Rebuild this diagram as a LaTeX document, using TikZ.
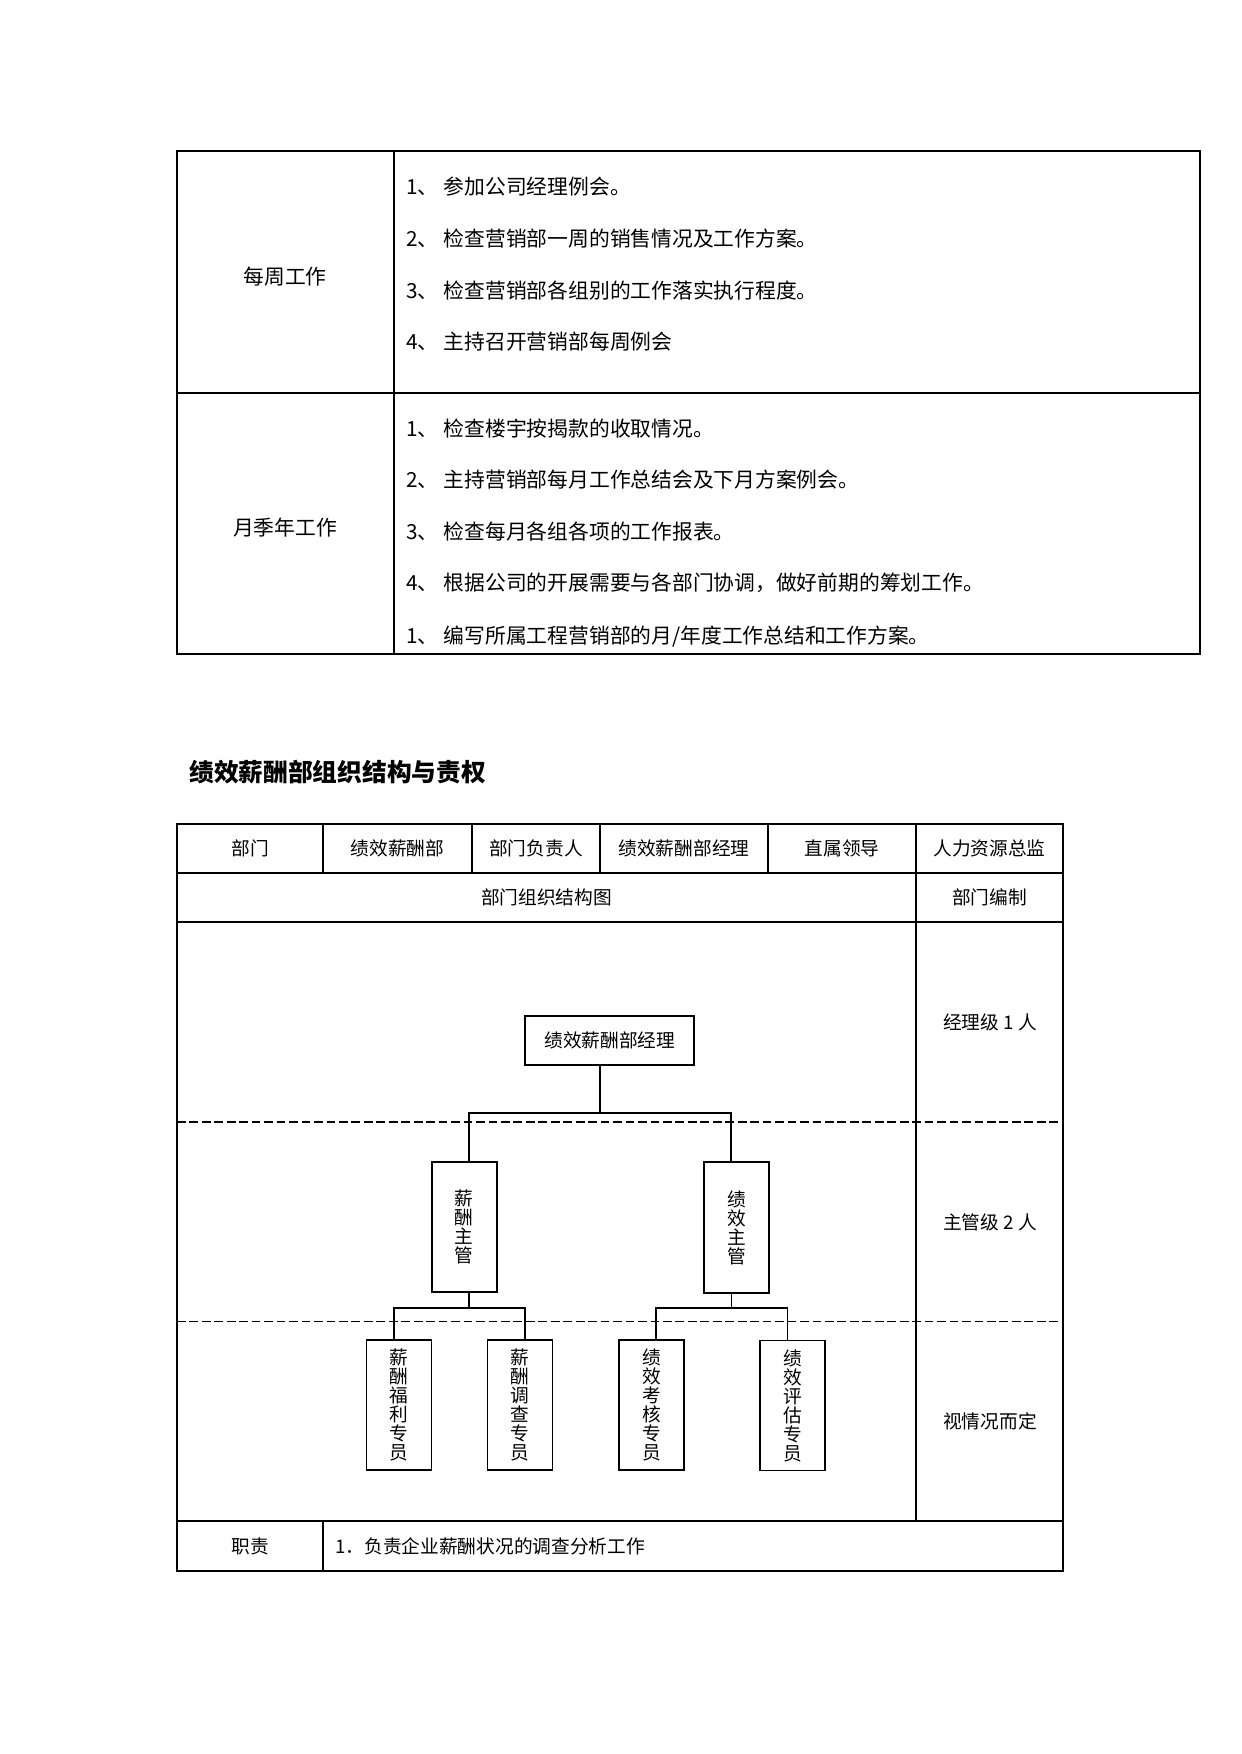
\documentclass[tikz,border=0pt]{standalone}
\usepackage{fontspec}
\setmainfont{Noto Sans CJK SC}
\usetikzlibrary{calc}
\begin{document}
\begin{tikzpicture}[x=0.016922cm,y=-0.016922cm,
  tline/.style={line width=0.6pt},
  dline/.style={line width=0.6pt, dash pattern=on 4.2pt off 1.8pt},
  lbl/.style={inner sep=0pt, font=\fontsize{9pt}{11pt}\selectfont},
  lblten/.style={inner sep=0pt, font=\fontsize{10pt}{12pt}\selectfont},
  itemtxt/.style={inner sep=0pt, anchor=west, font=\fontsize{10pt}{12pt}\selectfont},
  obox/.style={draw, line width=0.9pt, inner sep=0pt, align=center,
    font=\fontsize{9pt}{9.15pt}\selectfont},
  mgrbox/.style={obox, minimum width=2.860cm, minimum height=0.829cm},
  vbox/.style={obox, minimum width=1.100cm, minimum height=2.210cm},
  thickc/.style={line width=0.9pt, line join=miter},
  thinc/.style={line width=0.5pt}]
\useasboundingbox (0,0) rectangle (1241,1754);

% ---------- top table ----------
\draw[tline] (177,151) rectangle (1200,654);
\draw[tline] (394,151) -- (394,654);
\draw[tline] (177,393) -- (1200,393);

\node[lblten] (weekly) at (285,277) {每周工作};
\node[lblten] (monthly) at (285,528) {月季年工作};

\node[itemtxt] (w1) at (406,187) {1、\hspace{2.5pt}参加公司经理例会。};
\node[itemtxt] (w2) at (406,239) {2、\hspace{2.5pt}检查营销部一周的销售情况及工作方案。};
\node[itemtxt] (w3) at (406,291) {3、\hspace{2.5pt}检查营销部各组别的工作落实执行程度。};
\node[itemtxt] (w4) at (406,342) {4、\hspace{2.5pt}主持召开营销部每周例会};

\node[itemtxt] (m1) at (406,429) {1、\hspace{2.5pt}检查楼宇按揭款的收取情况。};
\node[itemtxt] (m2) at (406,480) {2、\hspace{2.5pt}主持营销部每月工作总结会及下月方案例会。};
\node[itemtxt] (m3) at (406,532) {3、\hspace{2.5pt}检查每月各组各项的工作报表。};
\node[itemtxt] (m4) at (406,583) {4、\hspace{2.5pt}根据公司的开展需要与各部门协调，做好前期的筹划工作。};
\node[itemtxt] (m5) at (406,637) {1、\hspace{2.5pt}编写所属工程营销部的月/年度工作总结和工作方案。};

% ---------- title ----------
\node[anchor=west, inner sep=0pt, font=\fontsize{11.9pt}{14pt}\selectfont\bfseries] (title) at (189,772) {绩效薪酬部组织结构与责权};

% ---------- second table ----------
\draw[tline] (177,824) rectangle (1063,1571);
\draw[tline] (177,873) -- (1063,873);
\draw[tline] (177,922) -- (1063,922);
\draw[tline] (177,1521) -- (1063,1521);
\foreach \xx in {323,472,600,768} \draw[tline] (\xx,824) -- (\xx,873);
\draw[tline] (916,824) -- (916,1521);
\draw[tline] (323,1521) -- (323,1571);
\draw[dline] (177,1122) -- (1063,1122);
\draw[dline] (177,1321.5) -- (1063,1321.5);

\node[lbl] (c1) at (250,848.5) {部门};
\node[lbl] (c2) at (397.5,848.5) {绩效薪酬部};
\node[lbl] (c3) at (536,848.5) {部门负责人};
\node[lbl] (c4) at (684,848.5) {绩效薪酬部经理};
\node[lbl] (c5) at (842,848.5) {直属领导};
\node[lbl] (c6) at (989.5,848.5) {人力资源总监};
\node[lbl] (chart) at (546.5,897.5) {部门组织结构图};
\node[lbl] (staff) at (989.5,897.5) {部门编制};
\node[lbl] (lv1) at (990,1022) {经理级 1 人};
\node[lbl] (lv2) at (990,1222) {主管级 2 人};
\node[lbl] (lv3) at (990,1421) {视情况而定};
\node[lbl] (duty) at (250,1546) {职责};
\node[lbl, anchor=west] (duty1) at (335,1546) {1．负责企业薪酬状况的调查分析工作};

% ---------- org chart ----------
\node[mgrbox] (mgr) at (609.8,1040.5) {绩效薪酬部经理};
\node[vbox] (supL) at (464.2,1227) {薪\\酬\\主\\管};
\node[vbox] (supR) at (736.5,1227.5) {绩\\效\\主\\管};
\node[vbox] (sp1) at (399,1405) {薪\\酬\\福\\利\\专\\员};
\node[vbox] (sp2) at (520,1405) {薪\\酬\\调\\查\\专\\员};
\node[vbox] (sp3) at (651.5,1405) {绩\\效\\考\\核\\专\\员};
\node[vbox, line width=0.6pt] (sp4) at (792.5,1405.5) {绩\\效\\评\\估\\专\\员};

\coordinate (hA) at (600,1113);
\coordinate (hL) at (469,1113);
\coordinate (hR) at (731,1113);
\coordinate (gL) at (469,1308);
\coordinate (g1) at (394,1308);
\coordinate (g2) at (524.7,1308);
\coordinate (gR) at (731.3,1308);
\coordinate (g3) at (656,1308);
\coordinate (g4) at (787.5,1308);

\draw[thickc] (mgr.south -| hA) -- (hA);
\draw[thinc] (hL |- supL.north) -- (hL) -- (hR) -- (hR |- supR.north);
\draw[thickc] (supL.south -| gL) -- (gL);
\draw[thickc] (g1 |- sp1.north) -- (g1) -- (g2) -- (g2 |- sp2.north);
\draw[thinc] (supR.south -| gR) -- (gR);
\draw[thickc] (g3 |- sp3.north) -- (g3) -- (g4);
\draw[thinc] (g4) -- (g4 |- sp4.north);
\end{tikzpicture}
\end{document}
